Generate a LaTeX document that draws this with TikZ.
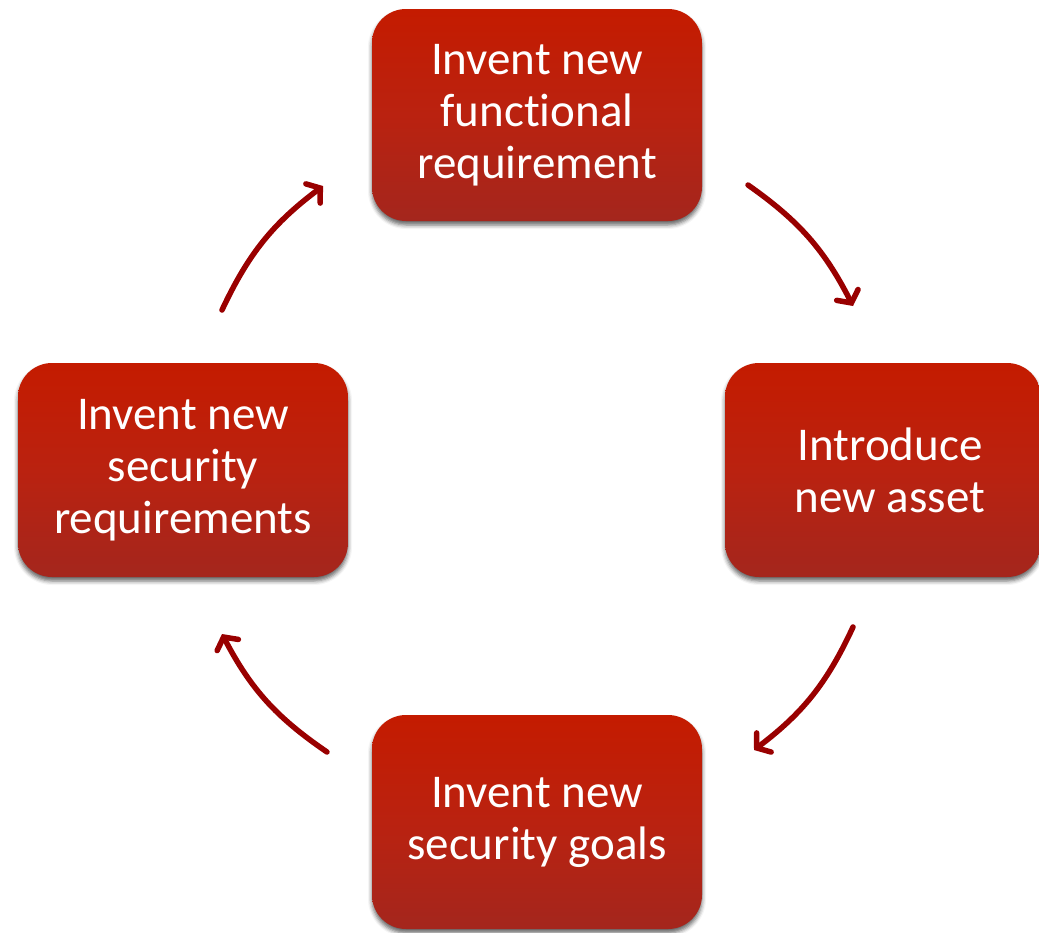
\documentclass[tikz,border=0pt]{standalone}
\usepackage{fontspec}
\setmainfont{Carlito}[RawFeature=-liga]
\usetikzlibrary{arrows.meta,shadows.blur}
\definecolor{boxtop}{HTML}{C41B00}
\definecolor{boxmid}{HTML}{BA2210}
\definecolor{boxbot}{HTML}{A4261D}
\definecolor{arrowred}{HTML}{990000}
\tikzset{
  stage/.style={rounded corners=34pt, top color=boxtop, bottom color=boxbot,
    middle color=boxmid, draw=none, text=white, align=center,
    font=\fontsize{47pt}{52pt}\selectfont, inner sep=0pt,
    blur shadow={shadow xshift=0pt, shadow yshift=-4pt, shadow blur radius=4pt,
      shadow opacity=60}},
  cycle arrow/.style={draw=arrowred, line width=5.5pt, line cap=round,
    -{Straight Barb[length=9pt, width=24pt, line cap=round]}}
}
\begin{document}
\begin{tikzpicture}[x=1pt, y=-1pt]
  \useasboundingbox (0,0) rectangle (1039,932);
  % the four stages of the cycle
  \node[stage, minimum width=330pt, minimum height=212pt] (func) at (537,115)
    {Invent new\\functional\\requirement};
  \node[stage, minimum width=316pt, minimum height=214pt] (asset) at (883,470)
    {\hspace*{14pt}Introduce\\\hspace*{14pt}new asset};
  \node[stage, minimum width=330pt, minimum height=214pt] (goals) at (537,822)
    {Invent new\\security goals};
  \node[stage, minimum width=330pt, minimum height=214pt] (secreq) at (183,470)
    {Invent new\\security\\requirements};
  % arrow end points on a circle around the centre of the cycle
  \coordinate (a1s) at (748,185);  \coordinate (a1e) at (853,306);
  \coordinate (a2s) at (853,627);  \coordinate (a2e) at (754,750);
  \coordinate (a3s) at (327,752);  \coordinate (a3e) at (222,634);
  \coordinate (a4s) at (222,310);  \coordinate (a4e) at (323,186);
  \draw[cycle arrow] (a1s) to[bend left=14] (a1e);
  \draw[cycle arrow] (a2s) to[bend left=14] (a2e);
  \draw[cycle arrow] (a3s) to[bend left=14] (a3e);
  \draw[cycle arrow] (a4s) to[bend left=14] (a4e);
\end{tikzpicture}
\end{document}
